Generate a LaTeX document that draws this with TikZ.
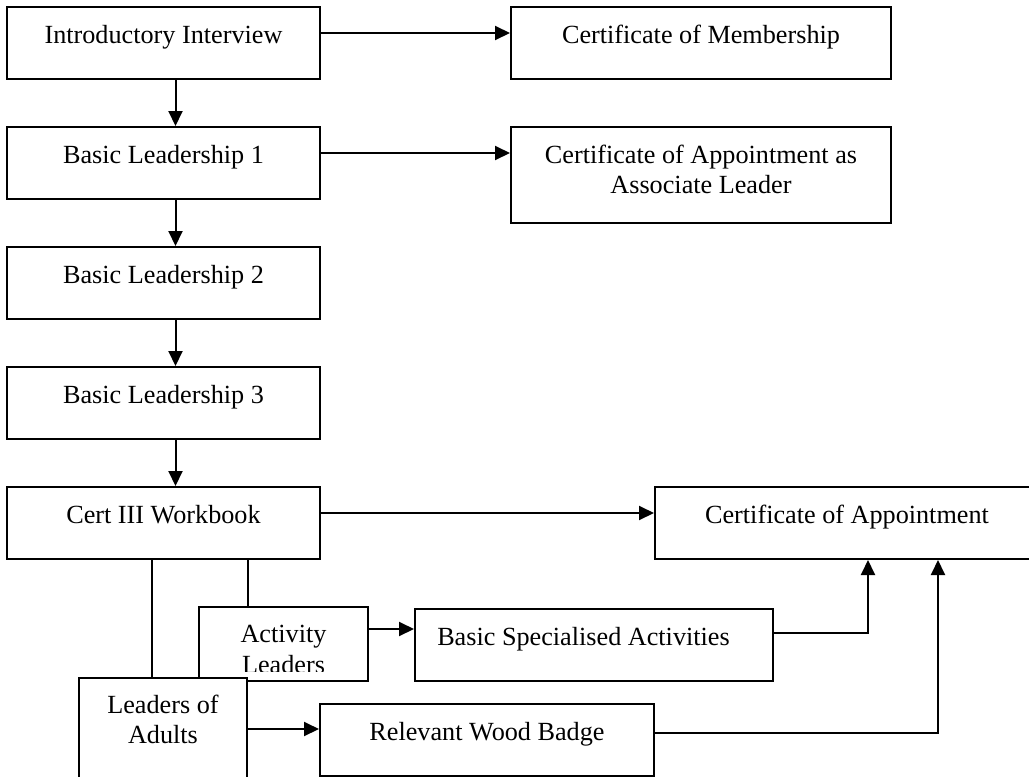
\documentclass[tikz,border=0pt]{standalone}
\usepackage{fontspec}
\setmainfont{Liberation Serif}
\usetikzlibrary{arrows.meta}
\tikzset{
  textsize/.style = { font=\fontsize{26.2pt}{30pt}\selectfont },
      card/.style = { draw, fill=white, line width=2pt, inner sep=0pt, align=center,
                      text height=36pt, text depth=36pt, textsize },
      wire/.style = { line width=2pt },
     arrow/.style = { wire, -{Triangle[length=15pt, width=14pt]} },
}

\begin{document}
\begin{tikzpicture}[x=1pt, y=-1pt]
  \clip (0,0) rectangle (1029,777);
  % left column
  \node [card, minimum width=313pt] (intro) at (163.5,43)  {Introductory Interview};
  \node [card, minimum width=313pt] (lead1) at (163.5,163) {Basic Leadership 1};
  \node [card, minimum width=313pt] (lead2) at (163.5,283) {Basic Leadership 2};
  \node [card, minimum width=313pt] (lead3) at (163.5,403) {Basic Leadership 3};
  \node [card, minimum width=313pt] (cert)  at (163.5,523) {Cert III Workbook};
  % certificates
  \node [card, minimum width=380pt] (memb)  at (701,43)  {Certificate of Membership};
  \node [card, minimum width=380pt, text height=66pt, text depth=30pt]
        (assoc) at (701,175) {Certificate of Appointment as\\Associate Leader};
  \node [card, minimum width=384pt] (appt)  at (847,523) {Certificate of Appointment};
  % streams
  \node [card, minimum width=169pt, minimum height=74pt] (activity) at (283.5,644) {};
  \begin{scope}
    \clip (activity.north west) rectangle ([yshift=11pt]activity.south east);
    \node [textsize, align=center, inner sep=0pt, anchor=north, text height=67pt, text depth=0pt]
          (activitytext) at (activity.north) {Activity\\[1pt]Leaders};
  \end{scope}
  \node [card, minimum width=358pt] (acts)   at (594,645) {Basic Specialised Activities\hspace*{21pt}};
  \node [card, minimum width=168pt, text height=65pt, text depth=37pt]
        (adults) at (163,729) {Leaders of\\Adults};
  \node [card, minimum width=334pt] (wood)   at (487,740) {Relevant Wood Badge};

  \foreach \a/\b in {intro/lead1, lead1/lead2, lead2/lead3, lead3/cert}
    \draw [arrow] ([xshift=12pt]\a.south) -- ([xshift=12pt]\b.north);
  \draw [arrow] ([yshift=10pt]intro.east) -- ([yshift=10pt]memb.west);
  \draw [arrow] ([yshift=10pt]lead1.east) -- ([yshift=10pt]lead1.east -| assoc.west);
  \draw [arrow] ([yshift=10pt]cert.east)  -- ([yshift=10pt]appt.west);
  \draw [wire]  (cert.south -| adults.east) -- (activity.north -| adults.east);
  \draw [wire]  ([xshift=-11pt]adults.north |- cert.south) -- ([xshift=-11pt]adults.north);
  \draw [arrow] ([yshift=15pt]activity.east) -- ([yshift=15pt]activity.east -| acts.west);
  \draw [arrow] (adults.east) -- (adults.east -| wood.west);
  \draw [arrow] ([yshift=12pt]acts.east) -| ([xshift=21pt]appt.south);
  \draw [arrow] ([yshift=7pt]wood.east)  -| ([xshift=91pt]appt.south);
\end{tikzpicture}
\end{document}
